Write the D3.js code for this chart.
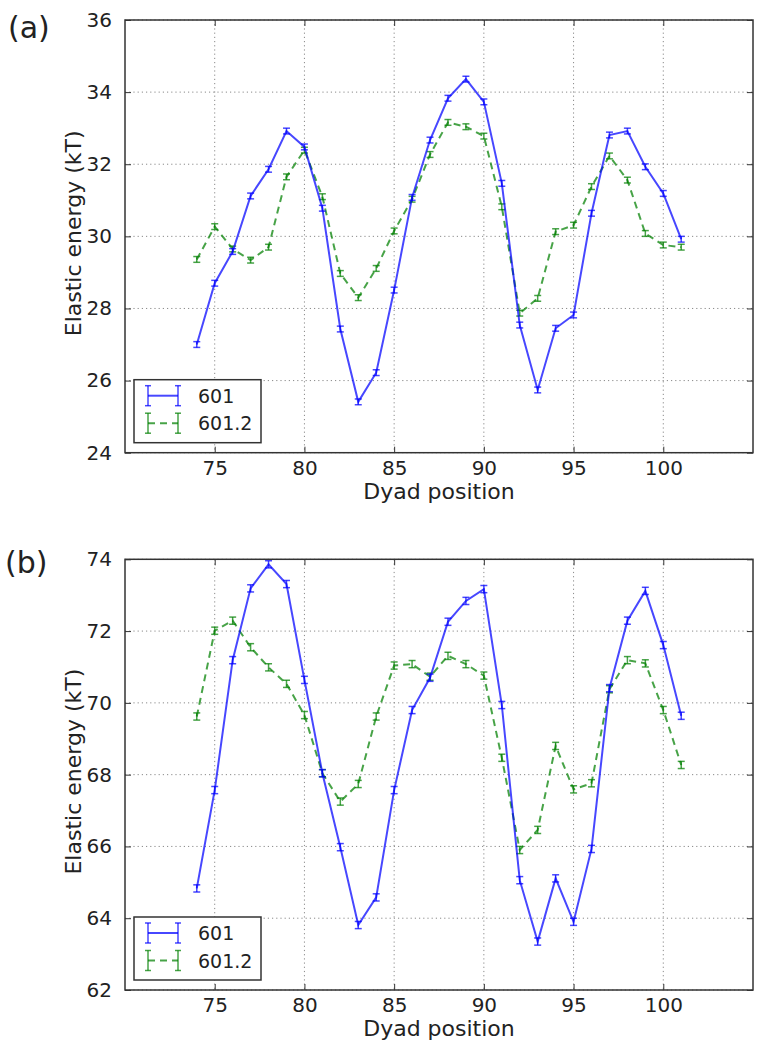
<!DOCTYPE html>
<html>
<head>
<meta charset="utf-8">
<script src="https://cdn.jsdelivr.net/npm/d3@7"></script>
<style>
  html, body { margin: 0; padding: 0; background: #fff; }
  svg { display: block; }
  text { font-family: "DejaVu Sans", sans-serif; fill: #222; }
</style>
</head>
<body>
<svg id="chart" width="763" height="1050"></svg>
<script>
// ---------- data ----------
const dyad = [74, 75, 76, 77, 78, 79, 80, 81, 82, 83, 84, 85, 86, 87, 88, 89, 90, 91, 92, 93, 94, 95, 96, 97, 98, 99, 100, 101];

const a601  = [27.00, 28.70, 29.58, 31.12, 31.86, 32.92, 32.48, 30.78, 27.43, 25.41, 26.22, 28.51, 31.08, 32.67, 33.83, 34.36, 33.73, 31.47, 27.54, 25.74, 27.45, 27.82, 30.64, 32.81, 32.92, 31.93, 31.19, 29.92];
const a6012 = [29.36, 30.27, 29.65, 29.34, 29.70, 31.65, 32.39, 31.10, 28.97, 28.30, 29.11, 30.15, 31.03, 32.27, 33.16, 33.04, 32.78, 30.82, 27.87, 28.28, 30.13, 30.31, 31.38, 32.23, 31.56, 30.08, 29.76, 29.70];
const a601Err  = [0.08, 0.08, 0.08, 0.08, 0.08, 0.08, 0.08, 0.08, 0.08, 0.08, 0.08, 0.08, 0.08, 0.08, 0.08, 0.08, 0.08, 0.08, 0.08, 0.08, 0.08, 0.08, 0.08, 0.08, 0.08, 0.08, 0.08, 0.08];
const a6012Err = [0.08, 0.08, 0.08, 0.08, 0.08, 0.08, 0.08, 0.08, 0.08, 0.08, 0.08, 0.08, 0.08, 0.08, 0.08, 0.08, 0.08, 0.08, 0.08, 0.08, 0.08, 0.08, 0.08, 0.08, 0.08, 0.08, 0.08, 0.08];

const b601  = [64.83, 67.57, 71.19, 73.19, 73.86, 73.31, 70.64, 68.04, 65.98, 63.81, 64.58, 67.57, 69.80, 70.70, 72.26, 72.84, 73.17, 69.94, 65.06, 63.35, 65.11, 63.90, 65.93, 70.41, 72.29, 73.12, 71.61, 69.64];
const b6012 = [69.62, 72.01, 72.29, 71.55, 70.99, 70.53, 69.66, 68.04, 67.25, 67.74, 69.62, 71.04, 71.08, 70.73, 71.31, 71.08, 70.76, 68.47, 65.90, 66.46, 68.80, 67.59, 67.76, 70.38, 71.19, 71.10, 69.80, 68.27];
const b601Err  = [0.1, 0.1, 0.1, 0.1, 0.1, 0.1, 0.1, 0.1, 0.1, 0.1, 0.1, 0.1, 0.1, 0.1, 0.1, 0.1, 0.1, 0.1, 0.1, 0.1, 0.1, 0.1, 0.1, 0.1, 0.1, 0.1, 0.1, 0.1];
const b6012Err = [0.1, 0.1, 0.1, 0.1, 0.1, 0.1, 0.1, 0.1, 0.1, 0.1, 0.1, 0.1, 0.1, 0.1, 0.1, 0.1, 0.1, 0.1, 0.1, 0.1, 0.1, 0.1, 0.1, 0.1, 0.1, 0.1, 0.1, 0.1];

const xDomain = [70, 105];
const xTicks = [75, 80, 85, 90, 95, 100];
const aDomain = [24, 36];
const aTicks = [24, 26, 28, 30, 32, 34, 36];
const bDomain = [62, 74];
const bTicks = [62, 64, 66, 68, 70, 72, 74];

const seriesNames = ["601", "601.2"];
const panelLabels = ["(a)", "(b)"];
const xLabel = "Dyad position";
const yLabel = "Elastic energy (kT)";

// ---------- styling ----------
const COL_BLUE = "rgba(0,0,255,0.72)";
const COL_GREEN = "rgba(0,128,0,0.72)";
const LEFT = 125, RIGHT = 753;

const svg = d3.select("#chart");

function drawPanel(cfg) {
  const g = svg.append("g");
  const x = d3.scaleLinear().domain(xDomain).range([LEFT, RIGHT]);
  const y = d3.scaleLinear().domain(cfg.domain).range([cfg.bottom, cfg.top]);

  // grid
  const grid = g.append("g").attr("stroke", "#8a8a8a").attr("stroke-width", 1)
    .attr("stroke-dasharray", "1.2,3").attr("fill", "none");
  xTicks.forEach(t => grid.append("line").attr("x1", x(t)).attr("x2", x(t)).attr("y1", cfg.top).attr("y2", cfg.bottom));
  cfg.ticks.forEach(t => grid.append("line").attr("x1", LEFT).attr("x2", RIGHT).attr("y1", y(t)).attr("y2", y(t)));

  // axes (ticks inward, labels)
  const xAxisB = d3.axisBottom(x).tickValues(xTicks).tickSize(-6).tickPadding(8).tickFormat(d3.format("d"));
  const xAxisT = d3.axisTop(x).tickValues(xTicks).tickSize(-6).tickFormat("");
  const yAxisL = d3.axisLeft(y).tickValues(cfg.ticks).tickSize(-6).tickPadding(13).tickFormat(d3.format("d"));
  const yAxisR = d3.axisRight(y).tickValues(cfg.ticks).tickSize(-6).tickFormat("");

  function styleAxis(sel) {
    sel.select(".domain").remove();
    sel.selectAll(".tick line").attr("stroke", "#333").attr("stroke-width", 1);
    sel.selectAll(".tick text").style("font-family", "DejaVu Sans, sans-serif").style("font-size", "20px").attr("fill", "#222");
  }
  g.append("g").attr("transform", `translate(0,${cfg.bottom})`).call(xAxisB).call(styleAxis);
  g.append("g").attr("transform", `translate(0,${cfg.top})`).call(xAxisT).call(styleAxis);
  g.append("g").attr("transform", `translate(${LEFT},0)`).call(yAxisL).call(styleAxis);
  g.append("g").attr("transform", `translate(${RIGHT},0)`).call(yAxisR).call(styleAxis);

  // series
  const series = [
    { vals: cfg.s1, err: cfg.e1, color: COL_BLUE, dash: null },
    { vals: cfg.s2, err: cfg.e2, color: COL_GREEN, dash: "7,5" }
  ];
  const line = d3.line().x(d => x(d.d)).y(d => y(d.v));
  series.slice().reverse().forEach(s => {
    const pts = dyad.map((d, i) => ({ d, v: s.vals[i], e: s.err[i] }));
    g.append("path").datum(pts).attr("d", line).attr("fill", "none")
      .attr("stroke", s.color).attr("stroke-width", 2)
      .attr("stroke-dasharray", s.dash);
    const eb = g.append("g").attr("stroke", s.color).attr("stroke-width", 1.5);
    eb.selectAll("line.v").data(pts).enter().append("line")
      .attr("x1", d => x(d.d)).attr("x2", d => x(d.d))
      .attr("y1", d => y(d.v - d.e)).attr("y2", d => y(d.v + d.e));
    eb.selectAll("line.t").data(pts).enter().append("line")
      .attr("x1", d => x(d.d) - 3.5).attr("x2", d => x(d.d) + 3.5)
      .attr("y1", d => y(d.v + d.e)).attr("y2", d => y(d.v + d.e));
    eb.selectAll("line.b").data(pts).enter().append("line")
      .attr("x1", d => x(d.d) - 3.5).attr("x2", d => x(d.d) + 3.5)
      .attr("y1", d => y(d.v - d.e)).attr("y2", d => y(d.v - d.e));
  });

  // frame
  g.append("rect").attr("x", LEFT).attr("y", cfg.top).attr("width", RIGHT - LEFT).attr("height", cfg.bottom - cfg.top)
    .attr("fill", "none").attr("stroke", "#333").attr("stroke-width", 1.5);

  // axis labels
  g.append("text").attr("x", (LEFT + RIGHT) / 2).attr("y", cfg.bottom + 46)
    .attr("text-anchor", "middle").style("font-size", "22px").text(xLabel);
  g.append("text").attr("transform", `translate(81,${(cfg.top + cfg.bottom) / 2 - 3}) rotate(-90)`)
    .attr("text-anchor", "middle").style("font-size", "22px").text(yLabel);

  // panel label
  g.append("text").attr("x", cfg.lx).attr("y", cfg.ly).style("font-size", "30px").text(cfg.label);

  // legend
  const lg = g.append("g");
  const lx0 = 134, ly0 = cfg.bottom - 73;
  lg.append("rect").attr("x", lx0).attr("y", ly0).attr("width", 127).attr("height", 63)
    .attr("fill", "#fff").attr("stroke", "#333").attr("stroke-width", 1.5);
  series.forEach((s, i) => {
    const cy = ly0 + 16 + i * 27.5;
    const hx1 = 148, hx2 = 178;
    lg.append("line").attr("x1", hx1).attr("x2", hx2).attr("y1", cy).attr("y2", cy)
      .attr("stroke", s.color).attr("stroke-width", 2).attr("stroke-dasharray", s.dash ? "7,5" : null);
    [hx1, hx2].forEach(hx => {
      lg.append("line").attr("x1", hx).attr("x2", hx).attr("y1", cy - 10).attr("y2", cy + 10)
        .attr("stroke", s.color).attr("stroke-width", 1.5);
      lg.append("line").attr("x1", hx - 3).attr("x2", hx + 3).attr("y1", cy - 10).attr("y2", cy - 10)
        .attr("stroke", s.color).attr("stroke-width", 1.5);
      lg.append("line").attr("x1", hx - 3).attr("x2", hx + 3).attr("y1", cy + 10).attr("y2", cy + 10)
        .attr("stroke", s.color).attr("stroke-width", 1.5);
    });
    lg.append("text").attr("x", 198).attr("y", cy + 7).style("font-size", "19px").text(seriesNames[i]);
  });
}

drawPanel({ top: 20, bottom: 452.7, domain: aDomain, ticks: aTicks, s1: a601, s2: a6012, e1: a601Err, e2: a6012Err, label: panelLabels[0], lx: 8, ly: 38 });
drawPanel({ top: 559.3, bottom: 990, domain: bDomain, ticks: bTicks, s1: b601, s2: b6012, e1: b601Err, e2: b6012Err, label: panelLabels[1], lx: 5, ly: 573 });
</script>
</body>
</html>
